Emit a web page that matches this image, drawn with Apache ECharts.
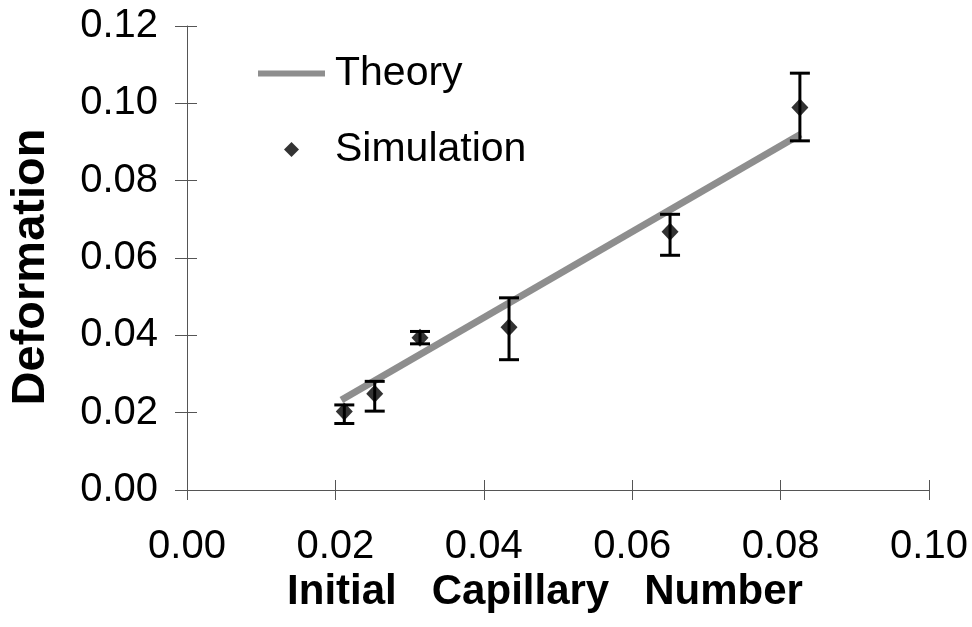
<!DOCTYPE html>
<html>
<head>
<meta charset="utf-8">
<title>Deformation vs Initial Capillary Number</title>
<script src="https://cdn.jsdelivr.net/npm/echarts@6/dist/echarts.min.js"></script>
<style>
  html, body { margin: 0; padding: 0; background: #fff; }
  #chart { width: 972px; height: 627px; }
</style>
</head>
<body>
<div id="chart"></div>
<script>
// Simulation results: capillary number, mean deformation and error-bar limits
const simX = [0.0212, 0.0253, 0.0314, 0.0434, 0.0651, 0.0826];
const simY = [0.0203, 0.0249, 0.0394, 0.0421, 0.0668, 0.0989];
const errLow = [0.0172, 0.0204, 0.0378, 0.0337, 0.0607, 0.0903];
const errHigh = [0.0220, 0.0281, 0.0410, 0.0497, 0.0713, 0.1078];

// Theoretical prediction (straight line)
const theoryX = [0.0208, 0.0827];
const theoryY = [0.0233, 0.0920];

// Tick labels
const xTickLabels = ['0.00', '0.02', '0.04', '0.06', '0.08', '0.10'];
const yTickLabels = ['0.00', '0.02', '0.04', '0.06', '0.08', '0.10', '0.12'];

const FONT = "'Liberation Sans', Arial, Helvetica, sans-serif";
const AXIS_COLOR = '#555';

const chart = echarts.init(document.getElementById('chart'), null, { renderer: 'canvas' });

const tickIndex = v => Math.round(v / 0.02);

function baseAxis(min, max) {
  return {
    type: 'value',
    min: min,
    max: max,
    interval: 0.02,
    splitLine: { show: false },
    axisLine: { show: true, lineStyle: { color: AXIS_COLOR, width: 1 } },
    axisTick: { show: true, length: 10, lineStyle: { color: AXIS_COLOR, width: 1 } }
  };
}

const option = {
  animation: false,
  backgroundColor: '#fff',
  grid: { left: 183, right: 43, top: 26, bottom: 137, containLabel: false },
  legend: {
    orient: 'vertical',
    left: 258,
    top: 53,
    padding: 0,
    itemGap: 35,
    itemWidth: 67,
    itemHeight: 15,
    selectedMode: false,
    textStyle: { fontFamily: FONT, fontSize: 41, color: '#000', lineHeight: 40, padding: [0, 0, 0, 5] },
    data: [
      { name: 'Theory', icon: 'path://M0,0L67,0L67,6L0,6Z' },
      { name: 'Simulation', icon: 'path://M1,0L2,1L1,2L0,1Z' }
    ]
  },
  xAxis: [
    Object.assign(baseAxis(0, 0.1), {
      position: 'bottom',
      axisLabel: {
        margin: 37,
        fontFamily: FONT,
        fontSize: 40,
        color: '#000',
        formatter: v => xTickLabels[tickIndex(v)]
      },
      name: 'Initial   Capillary   Number',
      nameLocation: 'middle',
      nameGap: 69,
      nameTextStyle: { fontFamily: FONT, fontSize: 42, fontWeight: 'bold', color: '#000', padding: [0, 26, 0, 0] }
    }),
    Object.assign(baseAxis(0, 0.1), {
      position: 'bottom',
      axisLine: { show: false },
      axisTick: { show: true, inside: true, length: 10, lineStyle: { color: AXIS_COLOR, width: 1 } },
      axisLabel: { show: false }
    })
  ],
  yAxis: [
    Object.assign(baseAxis(0, 0.12), {
      position: 'left',
      axisTick: { show: true, length: 12, lineStyle: { color: AXIS_COLOR, width: 1 } },
      axisLabel: {
        margin: 29,
        fontFamily: FONT,
        fontSize: 40,
        color: '#000',
        formatter: v => yTickLabels[tickIndex(v)]
      },
      name: 'Deformation',
      nameLocation: 'middle',
      nameGap: 132,
      nameTextStyle: { fontFamily: FONT, fontSize: 47, fontWeight: 'bold', color: '#000', padding: [0, 18, 0, 0] }
    }),
    Object.assign(baseAxis(0, 0.12), {
      position: 'left',
      axisLine: { show: false },
      axisTick: { show: true, inside: true, length: 10, lineStyle: { color: AXIS_COLOR, width: 1 } },
      axisLabel: { show: false }
    })
  ],
  series: [
    {
      name: 'Theory',
      type: 'line',
      xAxisIndex: 0,
      yAxisIndex: 0,
      z: 1,
      symbol: 'none',
      silent: true,
      color: '#8e8e8e',
      lineStyle: { color: '#8e8e8e', width: 7 },
      data: theoryX.map((x, i) => [x, theoryY[i]])
    },
    {
      name: 'Error',
      type: 'custom',
      xAxisIndex: 0,
      yAxisIndex: 0,
      z: 3,
      silent: true,
      encode: { x: 0, y: [1, 2] },
      data: simX.map((x, i) => [x, errLow[i], errHigh[i]]),
      renderItem: function (params, api) {
        const x = api.value(0);
        const lo = api.coord([x, api.value(1)]);
        const hi = api.coord([x, api.value(2)]);
        const hw = 10;
        const style = { stroke: '#000', lineWidth: 3 };
        return {
          type: 'group',
          children: [
            { type: 'line', shape: { x1: hi[0], y1: hi[1], x2: lo[0], y2: lo[1] }, style: style },
            { type: 'line', shape: { x1: hi[0] - hw, y1: hi[1], x2: hi[0] + hw, y2: hi[1] }, style: style },
            { type: 'line', shape: { x1: lo[0] - hw, y1: lo[1], x2: lo[0] + hw, y2: lo[1] }, style: style }
          ]
        };
      }
    },
    {
      name: 'Simulation',
      type: 'scatter',
      xAxisIndex: 0,
      yAxisIndex: 0,
      z: 4,
      silent: true,
      symbol: 'diamond',
      symbolSize: [17, 18],
      color: '#000',
      itemStyle: { color: '#000' },
      data: simX.map((x, i) => [x, simY[i]])
    }
  ]
};

chart.setOption(option);
</script>
</body>
</html>
